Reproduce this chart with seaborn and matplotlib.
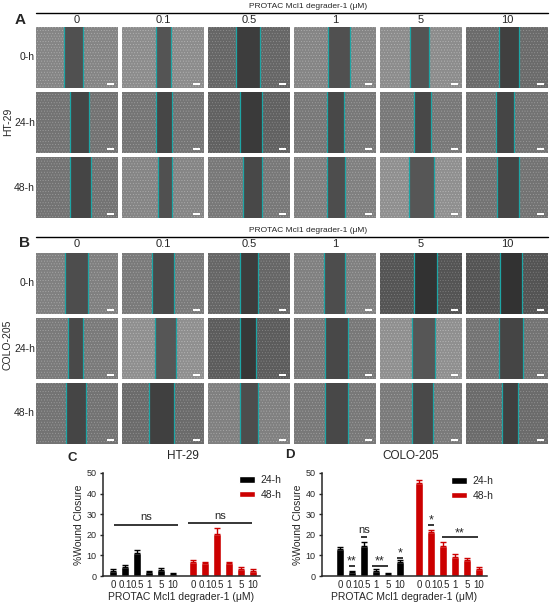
import numpy as np
import pandas as pd
import matplotlib
matplotlib.use("Agg")
import matplotlib.pyplot as plt
from matplotlib.lines import Line2D
from matplotlib.patches import Rectangle
import seaborn as sns

sns.set_style("ticks")
plt.rcParams['font.family'] = ['Liberation Sans', 'DejaVu Sans']
plt.rcParams['hatch.linewidth'] = 0.3

# ---------------- data ----------------
conc = ["0", "0.1", "0.5", "1", "5", "10"]
times = ["0-h", "24-h", "48-h"]

ht29_24 = [2.4, 4.4, 11.0, 2.1, 2.9, 0.8]
ht29_24_err = [0.8, 0.8, 1.6, 0.5, 0.8, 0.5]
ht29_48 = [6.6, 6.1, 20.2, 6.1, 3.4, 2.4]
ht29_48_err = [1.0, 0.5, 3.3, 0.7, 1.0, 0.8]

colo_24 = [13.2, 2.1, 14.8, 2.4, 1.1, 6.6]
colo_24_err = [1.0, 0.5, 1.8, 0.8, 0.5, 1.1]
colo_48 = [45.3, 21.6, 14.4, 9.4, 7.9, 3.4]
colo_48_err = [1.2, 0.7, 2.1, 1.1, 0.8, 1.1]

ht29_wound_left = [[0.34, 0.42, 0.34, 0.42, 0.37, 0.40],
                   [0.41, 0.42, 0.39, 0.40, 0.41, 0.36],
                   [0.41, 0.44, 0.43, 0.40, 0.35, 0.38]]
ht29_wound_right = [[0.57, 0.60, 0.63, 0.68, 0.60, 0.65],
                    [0.65, 0.61, 0.66, 0.61, 0.62, 0.59],
                    [0.67, 0.61, 0.66, 0.62, 0.66, 0.65]]
colo_wound_left = [[0.35, 0.36, 0.39, 0.36, 0.41, 0.42],
                   [0.39, 0.40, 0.39, 0.38, 0.39, 0.40],
                   [0.37, 0.33, 0.39, 0.38, 0.39, 0.44]]
colo_wound_right = [[0.63, 0.64, 0.61, 0.62, 0.69, 0.68],
                    [0.57, 0.66, 0.59, 0.66, 0.67, 0.70],
                    [0.61, 0.64, 0.61, 0.66, 0.65, 0.64]]
ht29_gray = [[0.52, 0.55, 0.40, 0.52, 0.55, 0.42],
             [0.45, 0.46, 0.38, 0.47, 0.47, 0.45],
             [0.45, 0.52, 0.47, 0.50, 0.56, 0.45]]
colo_gray = [[0.50, 0.48, 0.40, 0.50, 0.33, 0.33],
             [0.48, 0.56, 0.36, 0.47, 0.56, 0.45],
             [0.45, 0.42, 0.50, 0.47, 0.48, 0.42]]

W, H = 550, 604
fig = plt.figure(figsize=(W / 100, H / 100), dpi=100)


def fx(x):
    return x / W


def fy(y):
    return 1 - y / H


def T(x, y, s, **kw):
    kw.setdefault("ha", "center")
    kw.setdefault("va", "center")
    return fig.text(fx(x), fy(y), s, **kw)


def hline(x0, x1, y):
    fig.add_artist(Line2D([fx(x0), fx(x1)], [fy(y), fy(y)], color="black", lw=1.0,
                          transform=fig.transFigure))


col_x = [36, 122, 208, 294, 380, 466]
img_w, img_h = 82, 61
teal = "#1ea5a5"


def image_block(row_tops, lefts, rights, grays, header_y, letter, letter_xy, cell_label, cell_y):
    hline(36, 548, header_y)
    T(308, header_y - 7, "PROTAC Mcl1 degrader-1 (\u03bcM)", fontsize=6)
    for j, c in enumerate(conc):
        T(col_x[j] + img_w / 2, header_y + 7, c, fontsize=8)
    T(letter_xy[0], letter_xy[1], letter, fontsize=11, fontweight="bold")
    T(8, cell_y, cell_label, fontsize=7.5, rotation=90)
    for i, top in enumerate(row_tops):
        T(35, top + img_h / 2, times[i], fontsize=7.5, ha="right")
        for j in range(6):
            ax = fig.add_axes([fx(col_x[j]), fy(top + img_h), img_w / W, img_h / H])
            g = grays[i][j]
            ax.set_facecolor((g, g, g))
            ax.add_patch(Rectangle((0, 0), 1, 1, facecolor="none",
                                   edgecolor=(min(g + 0.18, 1),) * 3, hatch="......", lw=0))
            wl, wr = lefts[i][j], rights[i][j]
            wg = g * 0.6
            ax.axvspan(wl, wr, color=(wg, wg, wg), lw=0)
            ax.axvline(wl, color=teal, lw=0.9)
            ax.axvline(wr, color=teal, lw=0.9)
            ax.add_patch(Rectangle((0.86, 0.05), 0.09, 0.035, color="white", lw=0))
            ax.set_xlim(0, 1)
            ax.set_ylim(0, 1)
            ax.set_xticks([])
            ax.set_yticks([])
            for s in ax.spines.values():
                s.set_visible(False)


image_block([27, 92, 157], ht29_wound_left, ht29_wound_right, ht29_gray, 13, "A", (20, 20), "HT-29", 122)
image_block([253, 318, 383], colo_wound_left, colo_wound_right, colo_gray, 237, "B", (25, 243), "COLO-205", 345)

# ---------------- bar panels ----------------
pal = {"24-h": "black", "48-h": "#cc0000"}


def bar_panel(x0, x1, gap, v24, e24, v48, e48, xlim, title, title_x, letter, letter_xy, leg_xy):
    ax = fig.add_axes([fx(x0), fy(576), (x1 - x0) / W, (576 - 473) / H])
    pos24 = np.arange(6, dtype=float)
    pos48 = np.arange(6, dtype=float) + gap
    df = pd.DataFrame({"pos": np.r_[pos24, pos48], "val": list(v24) + list(v48),
                       "time": ["24-h"] * 6 + ["48-h"] * 6})
    sns.barplot(data=df, x="pos", y="val", hue="time", native_scale=True, dodge=False,
                palette=pal, width=0.62, saturation=1, ax=ax, errorbar=None)
    ax.errorbar(pos24, v24, yerr=[np.zeros(6), e24], fmt="none", ecolor="black",
                elinewidth=1, capsize=2.2, capthick=1)
    ax.errorbar(pos48, v48, yerr=[np.zeros(6), e48], fmt="none", ecolor=pal["48-h"],
                elinewidth=1, capsize=2.2, capthick=1)
    ax.set_xlim(*xlim)
    ax.set_ylim(0, 50)
    ax.set_yticks([0, 10, 20, 30, 40, 50])
    ax.set_xticks(np.r_[pos24, pos48])
    ax.set_xticklabels(conc + conc)
    ax.tick_params(axis="both", labelsize=6.5, length=2.5, width=1, pad=2)
    ax.tick_params(axis="x", length=0, pad=3, labelsize=7)
    for s in ["top", "right"]:
        ax.spines[s].set_visible(False)
    for s in ["left", "bottom"]:
        ax.spines[s].set_linewidth(1.1)
    ax.set_xlabel("PROTAC Mcl1 degrader-1 (\u03bcM)", fontsize=7.5, labelpad=1)
    ax.set_ylabel("%Wound Closure", fontsize=7.5, labelpad=2)
    h, l = ax.get_legend_handles_labels()
    ax.legend(h, l, frameon=False, fontsize=7.5, loc="upper left",
              bbox_to_anchor=(fx(leg_xy[0]), fy(leg_xy[1])), bbox_transform=fig.transFigure,
              handlelength=1.5, handleheight=0.6, handletextpad=0.6, labelspacing=0.45,
              borderaxespad=0, borderpad=0)
    T(title_x, 456, title, fontsize=8.5)
    T(letter_xy[0], letter_xy[1], letter, fontsize=9.5, fontweight="bold")
    return ax


def sig(ax, xa, xb, y, text, ty, fs=8):
    ax.plot([xa, xb], [y, y], color="black", lw=1.1, solid_capstyle="butt")
    ax.text((xa + xb) / 2, ty, text, ha="center", va="center", fontsize=fs)


axc = bar_panel(103, 260, 6.67, ht29_24, ht29_24_err, ht29_48, ht29_48_err,
                (-0.83, 12.25), "HT-29", 183, "C", (72, 458), (239, 475))
sig(axc, 0.1, 5.4, 25, "ns", 28.8)
sig(axc, 6.25, 11.6, 25.5, "ns", 29.2)

axd = bar_panel(322, 487, 6.58, colo_24, colo_24_err, colo_48, colo_48_err,
                (-1.5, 12.25), "COLO-205", 411, "D", (290, 455), (451, 476))
sig(axd, 0.75, 1.25, 5, "**", 7.0, fs=9)
sig(axd, 1.75, 2.25, 18.7, "ns", 22.3)
sig(axd, 2.67, 4.0, 5, "**", 7.0, fs=9)
sig(axd, 4.75, 5.25, 8.9, "*", 10.8, fs=9)
sig(axd, 7.35, 7.85, 25, "*", 27.0, fs=9)
sig(axd, 8.5, 11.5, 18.7, "**", 20.7, fs=9)

fig.savefig("out.png", dpi=100)
